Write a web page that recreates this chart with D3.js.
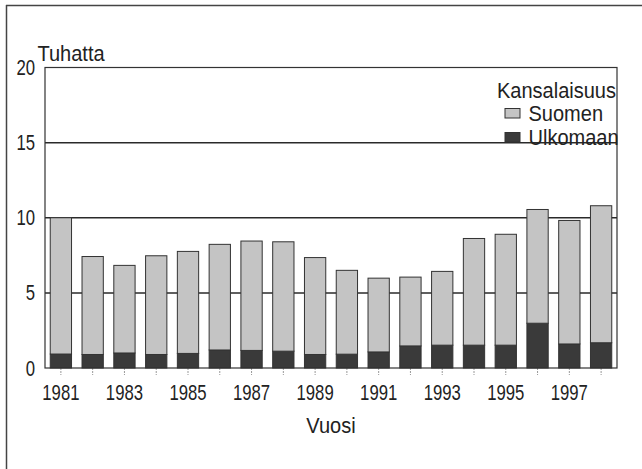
<!DOCTYPE html>
<html>
<head>
<meta charset="utf-8">
<script src="https://cdn.jsdelivr.net/npm/d3@7"></script>
<style>
  body { margin: 0; background: #fff; }
  text { font-family: "Liberation Sans", Arial, sans-serif; fill: #222; }
</style>
</head>
<body>
<svg id="chart" width="642" height="469"></svg>
<script>
// values in thousands
var years = [1981,1982,1983,1984,1985,1986,1987,1988,1989,1990,1991,1992,1993,1994,1995,1996,1997,1998];
var ulkomaan = [0.93,0.9,1.0,0.9,0.97,1.2,1.17,1.12,0.9,0.92,1.07,1.47,1.52,1.52,1.52,2.98,1.6,1.68];
var suomen   = [9.07,6.52,5.83,6.57,6.79,7.03,7.28,7.28,6.45,5.58,4.91,4.58,4.91,7.1,7.38,7.57,8.22,9.12];
var yTicks = [0,5,10,15,20];
var xLabels = [1981,1983,1985,1987,1989,1991,1993,1995,1997];
var seriesNames = ["Suomen","Ulkomaan"];
var colors = {Suomen: "#c4c4c4", Ulkomaan: "#3a3a3a"};

var svg = d3.select("#chart");
var mLeft = 45, mRight = 617, mTop = 67.5, mBottom = 368;
// the original typeface is condensed; digits more so than letters
var numSqueeze = 0.76, wordSqueeze = 0.91;

var x = d3.scaleBand()
    .domain(years)
    .range([mLeft, mRight])
    .paddingInner(0.33)
    .paddingOuter(0.165);

var y = d3.scaleLinear()
    .domain([0, 20])
    .range([mBottom, mTop]);

// narrow text: place with translate, squeeze horizontally
function label(sel, tx, ty, sq) {
  return sel.attr("transform", function(d, i) {
    var px = typeof tx === "function" ? tx(d, i) : tx,
        py = typeof ty === "function" ? ty(d, i) : ty;
    return "translate(" + px + "," + py + ") scale(" + sq + ",1)";
  }).style("font-size", "22px");
}

// scanned page border (left and top only)
svg.append("line").attr("x1", 6.5).attr("x2", 6.5).attr("y1", 5).attr("y2", 469)
    .attr("stroke", "#444").attr("stroke-width", 1.5);
svg.append("line").attr("x1", 6).attr("x2", 642).attr("y1", 5.5).attr("y2", 5.5)
    .attr("stroke", "#444").attr("stroke-width", 1.5);

// gridlines
svg.append("g")
    .selectAll("line")
    .data(yTicks.filter(function(d) { return d > 0 && d < 20; }))
  .enter().append("line")
    .attr("x1", mLeft).attr("x2", mRight)
    .attr("y1", function(d) { return y(d); })
    .attr("y2", function(d) { return y(d); })
    .attr("stroke", "#2a2a2a")
    .attr("stroke-width", 1.5);

// small year ticks under the axis
svg.append("g")
    .selectAll("line")
    .data(years)
  .enter().append("line")
    .attr("x1", function(d) { return x(d) + x.bandwidth() / 2; })
    .attr("x2", function(d) { return x(d) + x.bandwidth() / 2; })
    .attr("y1", mBottom)
    .attr("y2", mBottom + 7)
    .attr("stroke", "#999")
    .attr("stroke-width", 1)
    .attr("stroke-dasharray", "2,1");

// stacked bars
var table = years.map(function(yr, i) {
  return {year: yr, Ulkomaan: ulkomaan[i], Suomen: suomen[i]};
});
var stack = d3.stack().keys(["Ulkomaan", "Suomen"]);
var layers = stack(table);

svg.append("g")
    .selectAll("g")
    .data(layers)
  .enter().append("g")
    .attr("fill", function(d) { return colors[d.key]; })
    .selectAll("rect")
    .data(function(d) { return d; })
  .enter().append("rect")
    .attr("x", function(d) { return x(d.data.year); })
    .attr("width", x.bandwidth())
    .attr("y", function(d) { return y(d[1]); })
    .attr("height", function(d) { return y(d[0]) - y(d[1]); })
    .attr("stroke", "#333")
    .attr("stroke-width", 1);

// plot frame
svg.append("rect")
    .attr("x", mLeft).attr("y", mTop)
    .attr("width", mRight - mLeft).attr("height", mBottom - mTop)
    .attr("fill", "none")
    .attr("stroke", "#333")
    .attr("stroke-width", 1.2);

// y tick labels
label(svg.append("g")
    .selectAll("text")
    .data(yTicks)
  .enter().append("text")
    .attr("text-anchor", "end")
    .text(function(d) { return d; }),
  mLeft - 10, function(d) { return y(d) + 7.5; }, numSqueeze);

// x tick labels
label(svg.append("g")
    .selectAll("text")
    .data(xLabels)
  .enter().append("text")
    .attr("text-anchor", "middle")
    .text(function(d) { return d; }),
  function(d) { return x(d) + x.bandwidth() / 2; }, 399.5, numSqueeze);

// axis titles
label(svg.append("text").text("Tuhatta"), 37.5, 60.5, wordSqueeze);

label(svg.append("text")
    .attr("text-anchor", "middle")
    .text("Vuosi"), (mLeft + mRight) / 2, 433, wordSqueeze);

// legend
var legend = svg.append("g");
label(legend.append("text")
    .attr("text-anchor", "end")
    .text("Kansalaisuus"), 616, 98, wordSqueeze);

var items = legend.selectAll("g.item")
    .data(seriesNames)
  .enter().append("g")
    .attr("class", "item")
    .attr("transform", function(d, i) { return "translate(505," + (108.5 + i * 24) + ")"; });

items.append("rect")
    .attr("width", 15).attr("height", 9.5)
    .attr("fill", function(d) { return colors[d]; })
    .attr("stroke", "#333")
    .attr("stroke-width", 1);

label(items.append("text")
    .text(function(d) { return d; }), 23.5, 12.5, wordSqueeze);
</script>
</body>
</html>
